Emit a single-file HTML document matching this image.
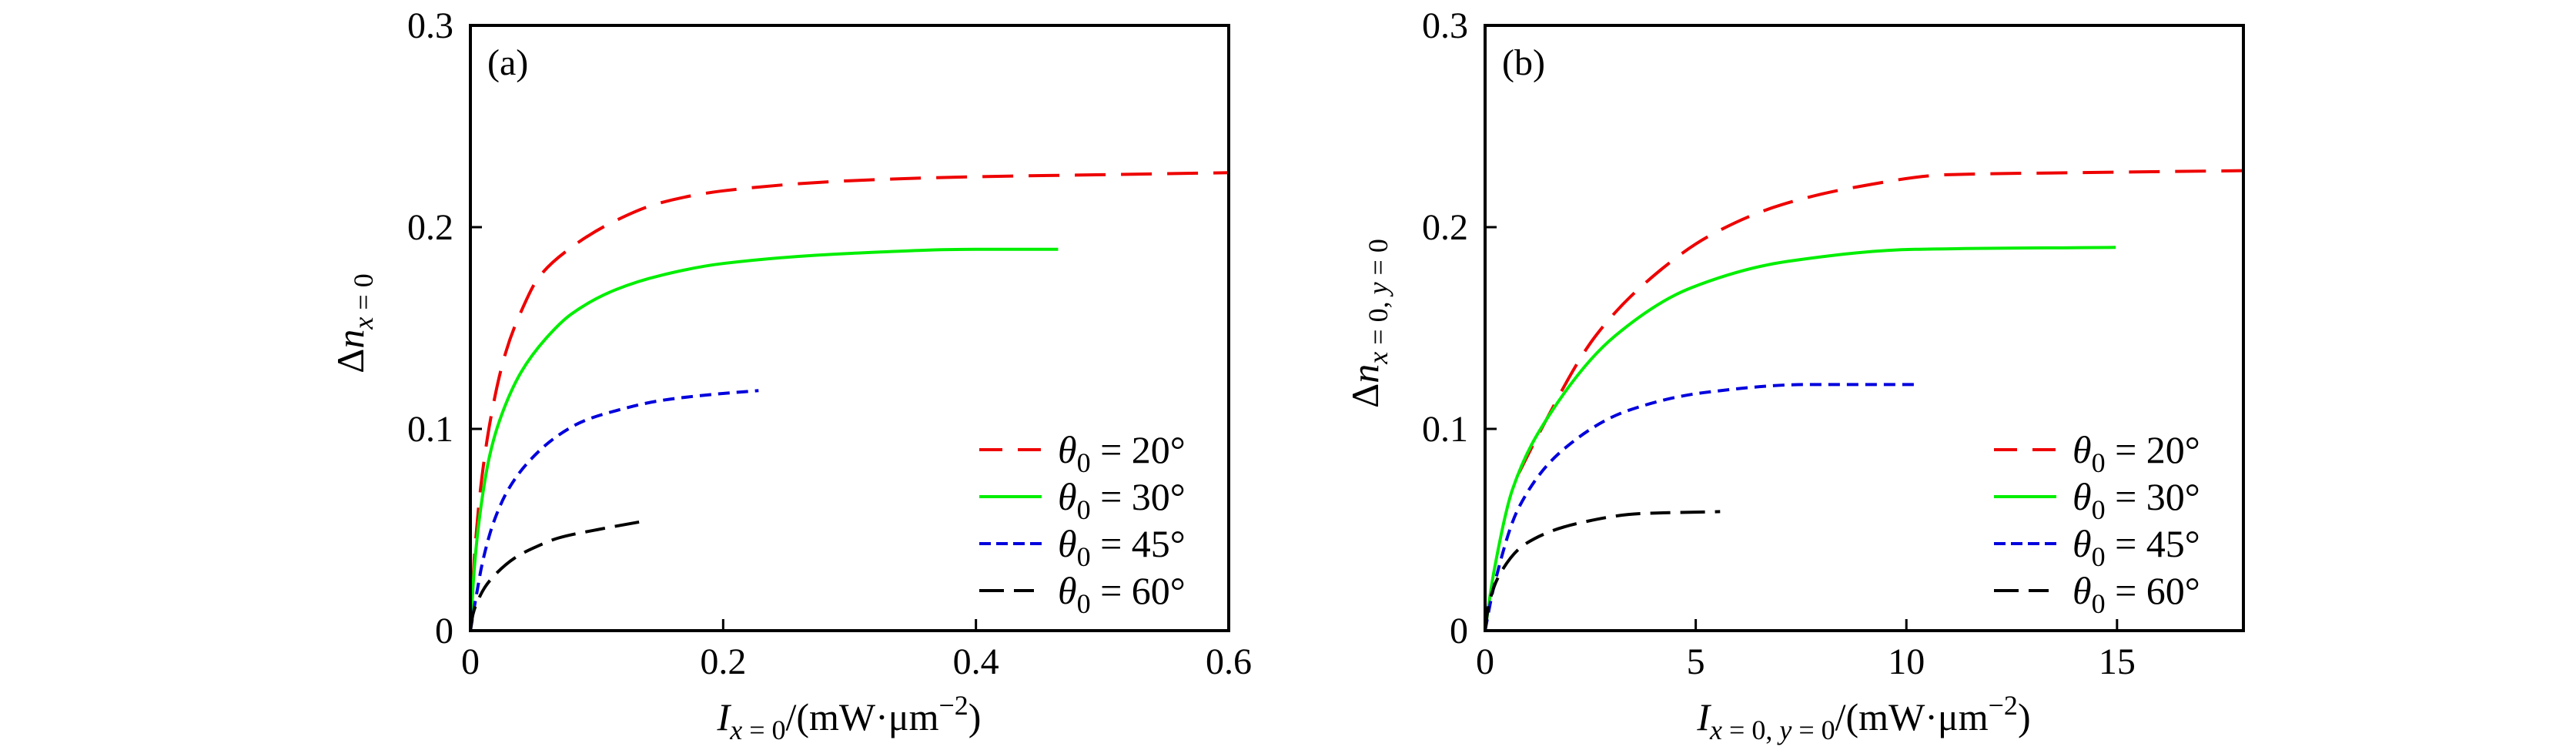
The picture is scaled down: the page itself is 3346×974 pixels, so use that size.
<!DOCTYPE html>
<html><head><meta charset="utf-8"><style>
html,body{margin:0;padding:0;background:#fff}
svg{display:block}
text{font-family:"Liberation Serif","DejaVu Serif",serif;fill:#000}
</style></head><body>
<svg id="fig" width="3346" height="974" viewBox="0 0 3346 974" xmlns="http://www.w3.org/2000/svg"></svg>
<script>
// Panel (a) data
const aXTicks = [0, 0.2, 0.4, 0.6];
const aXTickLabels = ["0", "0.2", "0.4", "0.6"];
const yTicks = [0, 0.1, 0.2, 0.3];
const yTickLabels = ["0", "0.1", "0.2", "0.3"];
const aRedX = [0,0.003,0.008,0.016,0.028,0.04,0.054,0.08,0.111,0.15,0.2,0.3,0.4,0.5,0.6];
const aRedY = [0,0.035,0.07,0.105,0.138,0.158,0.175,0.19,0.202,0.212,0.218,0.223,0.225,0.226,0.227];
const aGreenX = [0,0.003,0.007,0.015,0.023,0.04,0.06,0.08,0.115,0.15,0.2,0.3,0.4,0.465];
const aGreenY = [0,0.03,0.055,0.086,0.104,0.128,0.145,0.157,0.169,0.176,0.182,0.187,0.189,0.189];
const aBlueX = [0,0.004,0.01,0.018,0.03,0.048,0.07,0.09,0.115,0.15,0.19,0.228];
const aBlueY = [0,0.015,0.035,0.053,0.07,0.085,0.097,0.104,0.109,0.114,0.117,0.119];
const aBlackX = [0,0.002,0.006,0.012,0.02,0.035,0.05,0.07,0.1,0.135];
const aBlackY = [0,0.008,0.015,0.022,0.028,0.036,0.041,0.046,0.05,0.054];
// Panel (b) data
const bXTicks = [0, 5, 10, 15];
const bXTickLabels = ["0", "5", "10", "15"];
const bRedX = [0.8,1.26,2.62,3.84,5.35,7.02,8.84,10.96,13.99,18];
const bRedY = [0.078,0.097,0.146,0.173,0.196,0.211,0.22,0.226,0.227,0.228];
const bGreenX = [0,0.2,0.65,1.56,3.08,4.9,7.17,10.2,14.97];
const bGreenY = [0,0.028,0.07,0.108,0.146,0.17,0.183,0.189,0.19];
const bBlueX = [0,0.2,0.8,1.87,3.38,5.2,7.63,10.18];
const bBlueY = [0,0.021,0.061,0.09,0.109,0.118,0.122,0.122];
const bBlackX = [0,0.08,0.35,0.96,2.17,3.68,5.58];
const bBlackY = [0,0.012,0.028,0.043,0.053,0.058,0.059];
const legendLabels = ["20", "30", "45", "60"];

const NS = "http://www.w3.org/2000/svg";
const svg = document.getElementById('fig');
function mk(tag, attrs, parent) {
  const e = document.createElementNS(NS, tag);
  for (const k in attrs) e.setAttribute(k, attrs[k]);
  (parent || svg).appendChild(e);
  return e;
}
const styles = [
  {color:"#ee0000", dash:"40 20", name:"theta-20"},
  {color:"#00ee00", dash:"", name:"theta-30"},
  {color:"#0000dd", dash:"15 9", name:"theta-45"},
  {color:"#000000", dash:"32 13 26 13", name:"theta-60"}
];

function smoothPath(px, py) {
  const n = px.length;
  if (n < 2) return '';
  const dx = [], m = [], t = [];
  for (let i = 0; i < n - 1; i++) { dx[i] = px[i+1] - px[i]; m[i] = (py[i+1] - py[i]) / dx[i]; }
  t[0] = m[0]; t[n-1] = m[n-2];
  for (let i = 1; i < n - 1; i++) {
    if (m[i-1] * m[i] <= 0) t[i] = 0;
    else { const w1 = 2*dx[i] + dx[i-1], w2 = dx[i] + 2*dx[i-1]; t[i] = (w1 + w2) / (w1/m[i-1] + w2/m[i]); }
  }
  let d = 'M' + px[0].toFixed(1) + ',' + py[0].toFixed(1);
  for (let i = 0; i < n - 1; i++) {
    const h = dx[i] / 3;
    d += 'C' + (px[i]+h).toFixed(1) + ',' + (py[i]+t[i]*h).toFixed(1) + ' ' +
         (px[i+1]-h).toFixed(1) + ',' + (py[i+1]-t[i+1]*h).toFixed(1) + ' ' +
         px[i+1].toFixed(1) + ',' + py[i+1].toFixed(1);
  }
  return d;
}

function panel(opt) {
  const L = opt.left, R = opt.left + 985, T = 33, B = 819;
  const g = mk('g', {});
  
  
  const sx = v => L + (v - opt.xmin) / (opt.xmax - opt.xmin) * (R - L);
  const sy = v => B - v / 0.3 * (B - T);
  opt.series.forEach((s, i) => {
    const st = styles[i];
    const d = smoothPath(s[0].map(sx), s[1].map(sy));
    const p = mk('path', {d: d, fill: 'none', stroke: st.color, 'stroke-width': 4, 'stroke-dasharray': st.dash, 'stroke-linejoin': 'round'}, g);
    
    
  });
  const fr = mk('rect', {x: L, y: T, width: R - L, height: B - T, fill: 'none', stroke: '#000', 'stroke-width': 4}, g);
  
  
  yTicks.forEach((v, i) => {
    const y = sy(v);
    if (i > 0 && i < yTicks.length - 1) {
      const t = mk('line', {x1: L, x2: L + 15, y1: y, y2: y, stroke: '#000', 'stroke-width': 3}, g);
      
      
    }
    const tx = mk('text', {x: L - 22, y: y + 16, 'font-size': 48, 'text-anchor': 'end'}, g);
    tx.textContent = yTickLabels[i];
    
    
  });
  opt.xTicks.forEach((v, i) => {
    const x = sx(v);
    if (i > 0 && v < opt.xmax) {
      const t = mk('line', {x1: x, x2: x, y1: B, y2: B - 15, stroke: '#000', 'stroke-width': 3}, g);
      
      
    }
    const tx = mk('text', {x: x, y: 875, 'font-size': 48, 'text-anchor': 'middle'}, g);
    tx.textContent = opt.xTickLabels[i];
    
    
  });
  const pl = mk('text', {x: L + 22, y: 97, 'font-size': 48}, g);
  pl.textContent = opt.tag;
  
  
  const lg = mk('g', {}, g);
  
  
  legendLabels.forEach((lab, i) => {
    const y = 584 + i * 61;
    const st = styles[i];
    const ln = mk('line', {x1: R - 324, x2: R - 243, y1: y, y2: y, stroke: st.color, 'stroke-width': 4, 'stroke-dasharray': i === 0 ? '30 20' : (i === 2 ? '15 7' : (i === 3 ? '32 13 26 13' : ''))}, lg);
    
    
    const tx = mk('text', {x: R - 222, y: y + 17, 'font-size': 50}, lg);
    tx.innerHTML = '<tspan font-style="italic">θ</tspan><tspan font-size="36" dy="12">0</tspan><tspan dy="-12"> = ' + lab + '°</tspan>';
    
    
  });
  const xt = mk('text', {x: L + 492, y: 948, 'font-size': 50, 'text-anchor': 'middle'}, g);
  xt.innerHTML = opt.xTitle;
  
  
  const yt = mk('text', {x: 0, y: 0, 'font-size': 50, 'text-anchor': 'middle', transform: 'translate(' + (opt.yTitleX) + ',' + 420 + ') rotate(-90)'}, g);
  yt.innerHTML = opt.yTitle;
  
  
}

panel({name: 'panel-a', left: 611, xmin: 0, xmax: 0.6, xTicks: aXTicks, xTickLabels: aXTickLabels, tag: '(a)',
  series: [[aRedX, aRedY], [aGreenX, aGreenY], [aBlueX, aBlueY], [aBlackX, aBlackY]],
  xTitle: '<tspan font-style="italic">I</tspan><tspan font-size="36" dy="12"><tspan font-style="italic">x</tspan> = 0</tspan><tspan dy="-12">/(mW·μm</tspan><tspan font-size="36" dy="-20">−2</tspan><tspan dy="20">)</tspan>',
  yTitle: 'Δ<tspan font-style="italic">n</tspan><tspan font-size="36" dy="12"><tspan font-style="italic">x</tspan> = 0</tspan>',
  yTitleX: 472});
panel({name: 'panel-b', left: 1929, xmin: 0, xmax: 18, xTicks: bXTicks, xTickLabels: bXTickLabels, tag: '(b)',
  series: [[bRedX, bRedY], [bGreenX, bGreenY], [bBlueX, bBlueY], [bBlackX, bBlackY]],
  xTitle: '<tspan font-style="italic">I</tspan><tspan font-size="36" dy="12"><tspan font-style="italic">x</tspan> = 0, <tspan font-style="italic">y</tspan> = 0</tspan><tspan dy="-12">/(mW·μm</tspan><tspan font-size="36" dy="-20">−2</tspan><tspan dy="20">)</tspan>',
  yTitle: 'Δ<tspan font-style="italic">n</tspan><tspan font-size="36" dy="12"><tspan font-style="italic">x</tspan> = 0, <tspan font-style="italic">y</tspan> = 0</tspan>',
  yTitleX: 1790});
</script>
</body></html>
